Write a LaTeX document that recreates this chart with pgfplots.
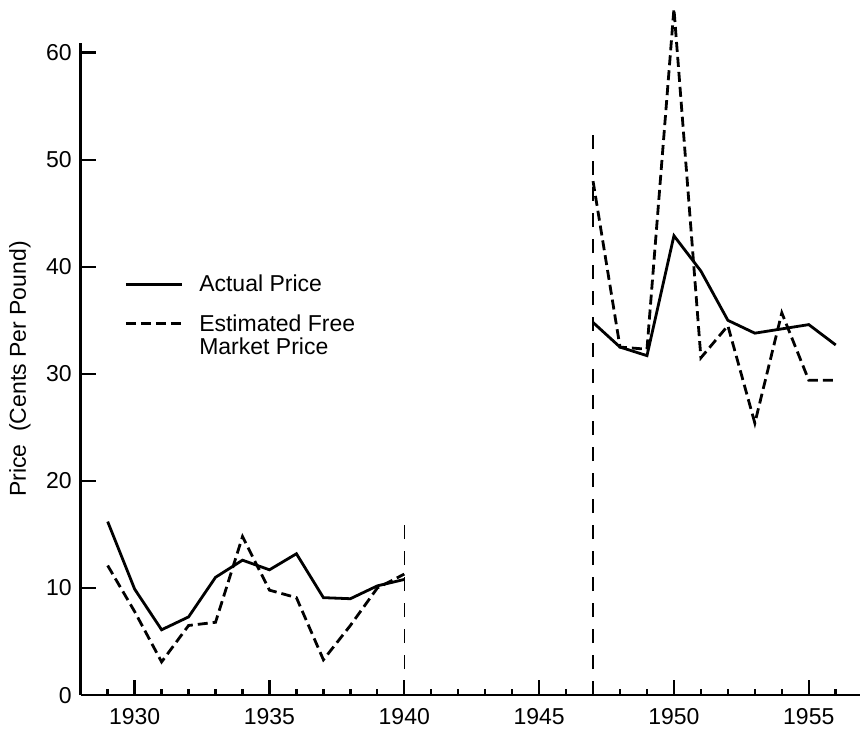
\documentclass[border=0pt]{standalone}
\usepackage{pgfplots}
\pgfplotsset{compat=1.18}
\usepackage{fontspec}
\setmainfont{Liberation Sans}
\begin{document}
\begin{tikzpicture}
\begin{axis}[
  name=ax,
  scale only axis,
  width=389.6pt, height=326pt,
  xmin=1928, xmax=1956.9,
  ymin=0, ymax=60.9,
  clip=false,
  axis lines*=left,
  axis line style={line width=1.4pt},
  xtick={1930,1935,...,1955},
  minor xtick={1929,...,1956},
  ytick={0,10,...,60},
  tick align=inside,
  major tick length=7.5pt,
  minor tick length=3pt,
  every tick/.style={black, line width=1.2pt},
  /pgf/number format/assume math mode=true,
  xticklabel style={/pgf/number format/1000 sep={}, font=\fontsize{11.5}{13}\selectfont, yshift=-3pt},
  yticklabel style={font=\fontsize{11.5}{13}\selectfont, xshift=-1pt},
  ylabel={Price\ \ (Cents Per Pound)},
  every axis y label/.style={at={(axis description cs:-0.078,0.5)}, rotate=90, anchor=center, font=\fontsize{11.5}{13}\selectfont},
  legend style={at={(axis description cs:0.0556,0.652)}, anchor=north west, draw=none, fill=none, inner sep=0pt, font=\fontsize{11.5}{13}\selectfont, row sep=5.5pt, column sep=6pt},
  legend cell align=left,
  legend image code/.code={\draw[#1] (0pt,0pt) -- (28pt,0pt);},
]
\addplot[black, line width=1.4pt] coordinates {
 (1929,16.2) (1930,9.9) (1931,6.1) (1932,7.3) (1933,11.0) (1934,12.6) (1935,11.7) (1936,13.2) (1937,9.1) (1938,9.0) (1939,10.2) (1940,10.8)};
\addlegendentry{Actual Price}
\addplot[black, line width=1.4pt, dash pattern=on 5pt off 2.5pt] coordinates {
 (1929,12.1) (1930,7.8) (1931,3.1) (1932,6.5) (1933,6.8) (1934,14.8) (1935,9.8) (1936,9.1) (1937,3.3) (1938,6.5) (1939,10.0) (1940,11.3)};
\addlegendentry{\begin{tabular}[t]{@{}l@{}}Estimated Free\\[-1.5pt]Market Price\end{tabular}}
\addplot[black, line width=1.4pt, forget plot] coordinates {
 (1947,34.8) (1948,32.5) (1949,31.7) (1950,42.9) (1951,39.6) (1952,35.0) (1953,33.8) (1954,34.2) (1955,34.6) (1956,32.7)};
\addplot[black, line width=1.4pt, dash pattern=on 5pt off 2.5pt, forget plot] coordinates {
 (1947,48.0) (1948,32.5) (1949,32.3) (1950,64.1) (1951,31.5) (1952,34.5) (1953,25.4) (1954,35.7) (1955,29.4) (1956,29.4)};
\addplot[black, line width=0.7pt, dash pattern=on 7pt off 6pt, forget plot] coordinates {(1940,0) (1940,16.8)};
\addplot[black, line width=0.7pt, dash pattern=on 7pt off 6pt, forget plot] coordinates {(1947,0) (1947,52.5)};
\end{axis}
\pgfresetboundingbox
\useasboundingbox ([shift={(-40.35pt,-18pt)}]ax.south west) rectangle ([shift={(1.5pt,21.5pt)}]ax.north east);
\end{tikzpicture}
\end{document}
